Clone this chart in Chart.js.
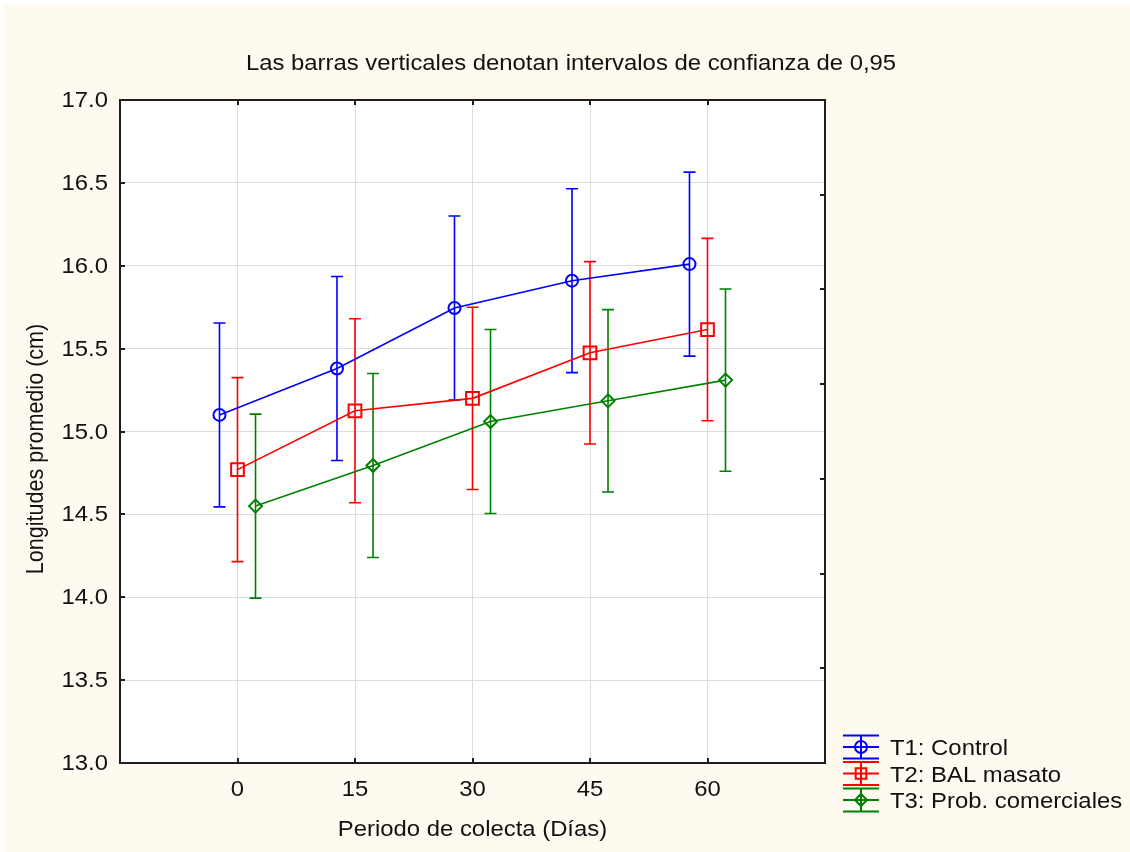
<!DOCTYPE html>
<html>
<head>
<meta charset="utf-8">
<script src="https://cdn.jsdelivr.net/npm/chart.js@4"></script>
<style>
  html, body { margin: 0; padding: 0; background: #ffffff; }
  canvas { display: block; }
</style>
</head>
<body>
<canvas id="grafico" width="1130" height="852"></canvas>
<script>
// datos
const dias = [0, 15, 30, 45, 60];
const t1Media = [15.10, 15.38, 15.745, 15.91, 16.01];
const t2Media = [14.77, 15.125, 15.20, 15.475, 15.615];
const t3Media = [14.55, 14.795, 15.06, 15.185, 15.31];
// semi-amplitud del intervalo de confianza 0,95
const t1Ic = [0.555, 0.555, 0.555, 0.555, 0.555];
const t2Ic = [0.555, 0.555, 0.55, 0.55, 0.55];
const t3Ic = [0.555, 0.555, 0.555, 0.55, 0.55];
const yTicks = [13.0, 13.5, 14.0, 14.5, 15.0, 15.5, 16.0, 16.5, 17.0];

const titulo = "Las barras verticales denotan intervalos de confianza de 0,95";
const tituloX = "Periodo de colecta (Días)";
const tituloY = "Longitudes promedio (cm)";

var FUENTE = "22px 'Liberation Sans', Arial, sans-serif";
var ESTIRA = 1.085;
var DESPL = 2.3; // desplazamiento de las series en dias

var series = [
  { label: "T1: Control", media: t1Media, ic: t1Ic, color: "rgb(0,0,255)", estilo: "circle", radio: 6, dx: -DESPL },
  { label: "T2: BAL masato", media: t2Media, ic: t2Ic, color: "rgb(255,0,0)", estilo: "rect", radio: 9, dx: 0 },
  { label: "T3: Prob. comerciales", media: t3Media, ic: t3Ic, color: "rgb(0,128,0)", estilo: "rectRot", radio: 6.5, dx: DESPL }
];

function texto(ctx, s, x, y, align, base, rot) {
  ctx.save();
  ctx.translate(x, y);
  if (rot) {
    ctx.rotate(-Math.PI / 2);
    ctx.scale(0.98, ESTIRA);
  } else {
    ctx.scale(ESTIRA, 1);
  }
  ctx.font = FUENTE;
  ctx.fillStyle = "#111111";
  ctx.textAlign = align;
  ctx.textBaseline = base;
  ctx.fillText(s, 0, 0);
  ctx.restore();
}

function marcador(ctx, estilo, x, y, r) {
  ctx.beginPath();
  if (estilo == "circle") {
    ctx.arc(x, y, r, 0, Math.PI * 2);
  } else if (estilo == "rect") {
    var s = r * Math.SQRT1_2;
    ctx.rect(x - s, y - s, 2 * s, 2 * s);
  } else {
    ctx.moveTo(x - r, y);
    ctx.lineTo(x, y - r);
    ctx.lineTo(x + r, y);
    ctx.lineTo(x, y + r);
    ctx.closePath();
  }
  ctx.stroke();
}

const estilo = {
  id: "estilo",
  beforeDraw(chart) {
    var ctx = chart.ctx, a = chart.chartArea;
    ctx.save();
    ctx.fillStyle = "#ffffff";
    ctx.fillRect(0, 0, chart.width, chart.height);
    ctx.fillStyle = "#fffaf0";
    ctx.fillRect(4, 5, chart.width - 4, chart.height - 5);
    ctx.fillStyle = "#ffffff";
    ctx.fillRect(a.left, a.top, a.right - a.left, a.bottom - a.top);
    ctx.restore();
  },
  beforeDatasetsDraw(chart) {
    // barras de error
    var ctx = chart.ctx, ys = chart.scales.y;
    ctx.save();
    ctx.lineWidth = 1.6;
    chart.data.datasets.forEach(function (ds, i) {
      var meta = chart.getDatasetMeta(i);
      ctx.strokeStyle = ds.borderColor;
      meta.data.forEach(function (pt, j) {
        var m = ds.data[j].y, h = ds.ic[j];
        var y1 = ys.getPixelForValue(m + h), y2 = ys.getPixelForValue(m - h);
        ctx.beginPath();
        ctx.moveTo(pt.x, y1); ctx.lineTo(pt.x, y2);
        ctx.moveTo(pt.x - 6, y1); ctx.lineTo(pt.x + 6, y1);
        ctx.moveTo(pt.x - 6, y2); ctx.lineTo(pt.x + 6, y2);
        ctx.stroke();
      });
    });
    ctx.restore();
  },
  afterDraw(chart) {
    var ctx = chart.ctx, a = chart.chartArea;
    var xs = chart.scales.x, ys = chart.scales.y, y2 = chart.scales.y2;
    ctx.save();
    // marco
    ctx.strokeStyle = "#1e1e1e";
    ctx.lineWidth = 2;
    ctx.strokeRect(a.left, a.top, a.right - a.left, a.bottom - a.top);
    ctx.beginPath();
    ys.ticks.forEach(function (t) {
      var p = Math.round(ys.getPixelForValue(t.value));
      ctx.moveTo(a.left, p); ctx.lineTo(a.left + 5, p);
    });
    y2.ticks.forEach(function (t) {
      var p = Math.round(y2.getPixelForValue(t.value));
      ctx.moveTo(a.right, p); ctx.lineTo(a.right - 5, p);
    });
    xs.ticks.forEach(function (t) {
      var p = Math.round(xs.getPixelForValue(t.value));
      ctx.moveTo(p, a.bottom); ctx.lineTo(p, a.bottom - 5);
      ctx.moveTo(p, a.top); ctx.lineTo(p, a.top + 5);
    });
    ctx.stroke();
    // etiquetas
    ys.ticks.forEach(function (t) {
      texto(ctx, t.value.toFixed(1), 108, ys.getPixelForValue(t.value) + 1, "right", "middle");
    });
    xs.ticks.forEach(function (t) {
      texto(ctx, String(t.value), xs.getPixelForValue(t.value), 796, "center", "alphabetic");
    });
    texto(ctx, titulo, 571, 70, "center", "alphabetic");
    texto(ctx, tituloX, (a.left + a.right) / 2, 836, "center", "alphabetic");
    texto(ctx, tituloY, 43, 449, "center", "alphabetic", true);
    // leyenda
    series.forEach(function (s, i) {
      var cy = 747 + i * 26.5;
      ctx.strokeStyle = s.color;
      ctx.lineWidth = 2;
      ctx.beginPath();
      ctx.moveTo(843, cy - 11.5); ctx.lineTo(879, cy - 11.5);
      ctx.moveTo(843, cy); ctx.lineTo(879, cy);
      ctx.moveTo(843, cy + 11.5); ctx.lineTo(879, cy + 11.5);
      ctx.moveTo(861, cy - 11.5); ctx.lineTo(861, cy + 11.5);
      ctx.stroke();
      marcador(ctx, s.estilo, 861, cy, s.estilo == "rect" ? 7.5 : 6);
      texto(ctx, s.label, 890, cy + 8, "left", "alphabetic");
    });
    ctx.restore();
  }
};

new Chart("grafico", {
  type: "scatter",
  data: {
    datasets: series.map(function (s) {
      return {
        label: s.label,
        data: dias.map(function (d, i) { return { x: d + s.dx, y: s.media[i] }; }),
        ic: s.ic,
        showLine: true,
        borderColor: s.color,
        borderWidth: 1.6,
        pointStyle: s.estilo,
        pointRadius: s.radio,
        pointBorderWidth: 2,
        pointBorderColor: s.color,
        pointBackgroundColor: "rgba(0,0,0,0)"
      };
    })
  },
  options: {
    responsive: false,
    devicePixelRatio: 1,
    animation: false,
    layout: { padding: { top: 100, right: 305, bottom: 0, left: 0 } },
    plugins: { legend: { display: false }, tooltip: { enabled: false } },
    scales: {
      x: {
        type: "linear",
        position: "bottom",
        min: -15,
        max: 75,
        afterBuildTicks: function (s) { s.ticks = dias.map(function (d) { return { value: d }; }); },
        afterFit: function (s) { s.height = 89; },
        ticks: { display: false },
        border: { display: false },
        grid: { color: "#dcdcdc", lineWidth: 1, drawTicks: false }
      },
      y: {
        position: "left",
        min: 13,
        max: 17,
        afterBuildTicks: function (s) { s.ticks = yTicks.map(function (v) { return { value: v }; }); },
        afterFit: function (s) { s.width = 120; },
        ticks: { display: false },
        border: { display: false },
        grid: { color: "#dcdcdc", lineWidth: 1, drawTicks: false }
      },
      y2: {
        position: "right",
        min: 0,
        max: 7,
        ticks: { display: false, stepSize: 1 },
        afterFit: function (s) { s.width = 0; },
        border: { display: false },
        grid: { drawOnChartArea: false, drawTicks: false }
      }
    }
  },
  plugins: [estilo]
});
</script>
</body>
</html>
